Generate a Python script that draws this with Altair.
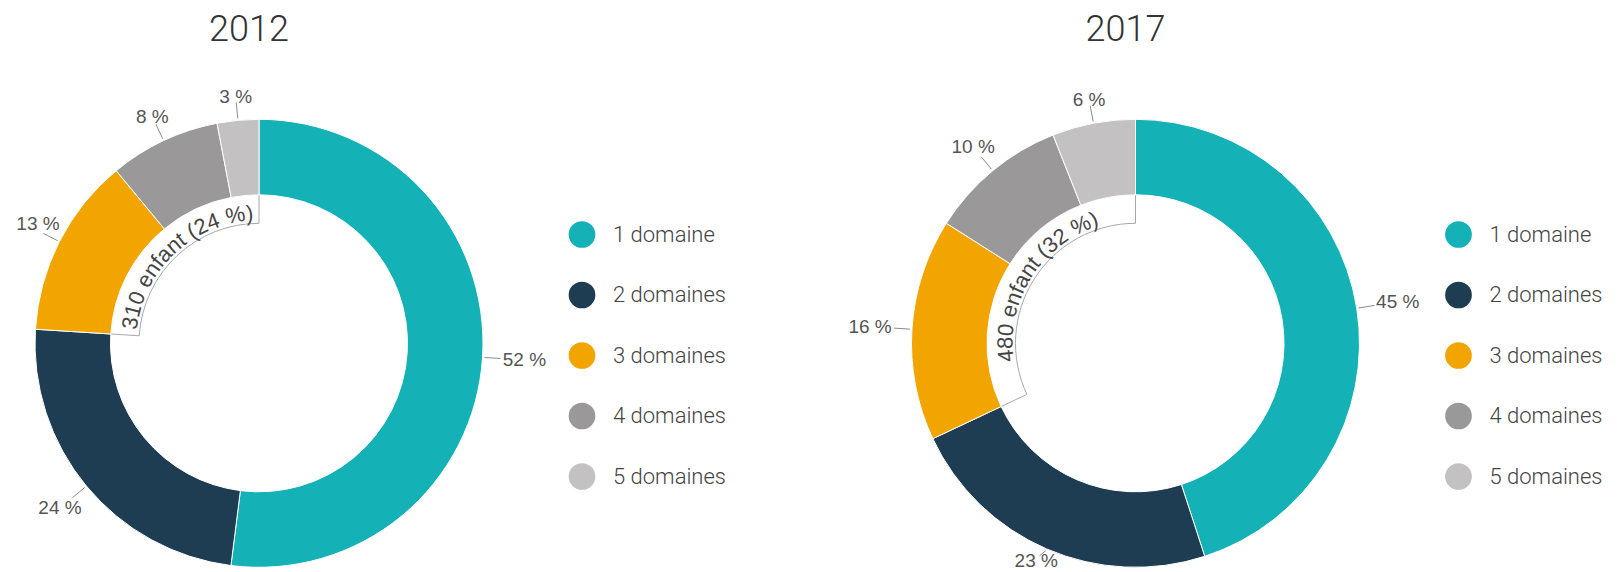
import altair as alt
import pandas as pd

# ---------------- data ----------------
years = ["2012", "2017"]
categories = ["1 domaine", "2 domaines", "3 domaines", "4 domaines", "5 domaines"]
pct_2012 = [52, 24, 13, 8, 3]
pct_2017 = [45, 23, 16, 10, 6]
children_count = [310, 480]
children_share = [24, 32]
colors = ["#14B1B7", "#1E3C52", "#F2A400", "#9A9898", "#C3C1C2"]

# ---------------- layout constants ----------------
W, H = 1603, 564
CY = 335.3
CX = {"2012": 251.0, "2017": 1127.5}
R_IN, R_OUT = 148.5, 224.0
R_BRACKET = 120.0
FS_CURVE, R_TEXT = 22, 123.0
LY0, LSTEP = 226.5, 60.5

rows = []
for y, vals in zip(years, [pct_2012, pct_2017]):
    for i, (c, v) in enumerate(zip(categories, vals)):
        rows.append({"year": y, "cat": c, "pct": v, "order": i})
df = pd.DataFrame(rows)

df_children = pd.DataFrame({"year": years, "n": children_count, "share": children_share})

# Arial / Liberation Sans advance widths (em) to lay the curved label out
adv = {" ": 0.278, "(": 0.333, ")": 0.333, "%": 0.889, "e": 0.556, "n": 0.556,
       "f": 0.278, "a": 0.556, "t": 0.278}
for d in "0123456789":
    adv[d] = 0.556
char_rows = []
for y, n, s in zip(years, children_count, children_share):
    txt = f"{n} enfant ({s} %)"
    total = sum(adv[c] for c in txt)
    cum = 0.0
    for c in txt:
        w = adv[c]
        char_rows.append({"year": y, "ch": c, "off": cum + w / 2 - total / 2, "share": s})
        cum += w
df_chars = pd.DataFrame(char_rows)

df_leg = pd.DataFrame({"cat": categories, "idx": list(range(len(categories)))})

color_enc = alt.Color("cat:N", scale=alt.Scale(domain=categories, range=colors), legend=None)

layers = []
for y in years:
    cx = CX[y]
    flt = alt.datum.year == y

    bracket = (
        alt.Chart(df_children)
        .transform_filter(flt)
        .transform_calculate(t0="(100 - datum.share) / 100 * 2 * PI", t1="2 * PI")
        .mark_arc(innerRadius=R_BRACKET, outerRadius=R_IN + 0.5, fill="white",
                  stroke="#a8a8a8", strokeWidth=1)
        .encode(x=alt.value(cx), y=alt.value(CY),
                theta=alt.Theta("t0:Q", scale=None), theta2=alt.Theta2("t1:Q"))
    )

    ring_base = (
        alt.Chart(df)
        .transform_filter(flt)
        .transform_window(cum="sum(pct)", sort=[alt.SortField("order")], frame=[None, 0])
        .transform_calculate(
            t0="(datum.cum - datum.pct) / 100 * 2 * PI",
            t1="datum.cum / 100 * 2 * PI",
            tm="(datum.cum - datum.pct / 2) / 100 * 2 * PI",
        )
    )

    ring = ring_base.mark_arc(innerRadius=R_IN, outerRadius=R_OUT, stroke="white",
                              strokeWidth=1).encode(
        x=alt.value(cx), y=alt.value(CY),
        theta=alt.Theta("t0:Q", scale=None), theta2=alt.Theta2("t1:Q"),
        color=color_enc,
    )

    leader = ring_base.transform_calculate(
        lx1=f"{cx} + {R_OUT + 2} * sin(datum.tm)",
        ly1=f"{CY} - {R_OUT + 2} * cos(datum.tm)",
        lx2=f"{cx} + {R_OUT + 18} * sin(datum.tm)",
        ly2=f"min({CY} - {R_OUT + 18} * cos(datum.tm), 548)",
    ).mark_rule(color="#8c8c8c", strokeWidth=1).encode(
        x=alt.X("lx1:Q", scale=None), y=alt.Y("ly1:Q", scale=None),
        x2="lx2:Q", y2="ly2:Q",
    )

    labels = ring_base.transform_calculate(
        rl="247 + 19 * pow(sin(datum.tm), 2)",
        lab="datum.pct + ' %'",
    ).transform_calculate(
        tx=f"max({cx} + datum.rl * sin(datum.tm), 30)",
        ty=f"min({CY} - datum.rl * cos(datum.tm), 553)",
    ).mark_text(font="Liberation Sans", fontSize=19, color="#555555",
                align="center", baseline="middle").encode(
        x=alt.X("tx:Q", scale=None), y=alt.Y("ty:Q", scale=None), text="lab:N",
    )

    curved = (
        alt.Chart(df_chars)
        .transform_filter(flt)
        .transform_calculate(
            phi=f"(100 - datum.share / 2) / 100 * 2 * PI + datum.off * {FS_CURVE} / {R_TEXT}"
        )
        .transform_calculate(
            cxp=f"{cx} + {R_TEXT} * sin(datum.phi)",
            cyp=f"{CY} - {R_TEXT} * cos(datum.phi)",
            deg="datum.phi * 180 / PI",
        )
        .mark_text(font="Liberation Sans", fontSize=FS_CURVE, color="#444444",
                   align="center", baseline="alphabetic")
        .encode(x=alt.X("cxp:Q", scale=None), y=alt.Y("cyp:Q", scale=None),
                angle=alt.Angle("deg:Q", scale=None), text="ch:N")
    )

    title = (
        alt.Chart(df_children)
        .transform_filter(flt)
        .mark_text(font="Roboto", fontWeight=300, fontSize=36, color="#333333",
                   align="center", baseline="middle")
        .encode(x=alt.value(cx - 10), y=alt.value(22), text="year:N")
    )

    leg_pts = (
        alt.Chart(df_leg)
        .transform_calculate(ly=f"{LY0} + datum.idx * {LSTEP}")
        .mark_circle(size=713, opacity=1)
        .encode(x=alt.value(cx + 323), y=alt.Y("ly:Q", scale=None), color=color_enc)
    )
    leg_txt = (
        alt.Chart(df_leg)
        .transform_calculate(ly=f"{LY0} + datum.idx * {LSTEP}")
        .mark_text(font="Roboto", fontWeight=300, fontSize=22, color="#444444",
                   align="left", baseline="middle")
        .encode(x=alt.value(cx + 354), y=alt.Y("ly:Q", scale=None), text="cat:N")
    )

    layers += [bracket, ring, leader, labels, curved, title, leg_pts, leg_txt]

chart = (
    alt.layer(*layers)
    .properties(width=W, height=H, padding=0, background="white",
                autosize=alt.AutoSizeParams(type="none"))
    .configure_view(stroke=None)
)

chart.save("out.html", embed_options={"renderer": "svg", "actions": False})
